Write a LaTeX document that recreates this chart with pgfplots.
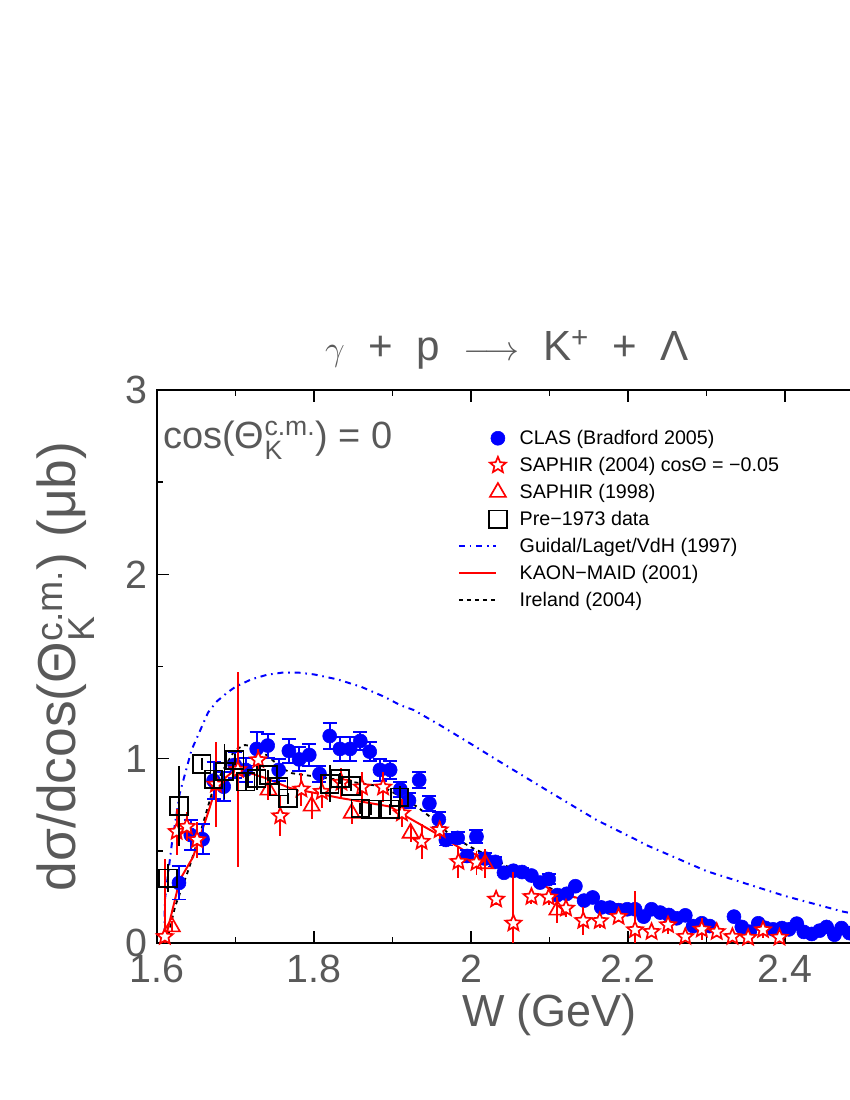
\documentclass[border=0pt]{standalone}
\usepackage{pgfplots}
\pgfplotsset{compat=1.18}
\usepackage{amsmath}
\usepackage{fontspec}
\setmainfont{Liberation Sans}

% open five-pointed star
\pgfdeclareplotmark{ostar}{%
  \pgfpathmoveto{\pgfpointpolar{90}{\pgfplotmarksize}}%
  \pgfpathlineto{\pgfpointpolar{126}{0.45\pgfplotmarksize}}%
  \pgfpathlineto{\pgfpointpolar{162}{\pgfplotmarksize}}%
  \pgfpathlineto{\pgfpointpolar{198}{0.45\pgfplotmarksize}}%
  \pgfpathlineto{\pgfpointpolar{234}{\pgfplotmarksize}}%
  \pgfpathlineto{\pgfpointpolar{270}{0.45\pgfplotmarksize}}%
  \pgfpathlineto{\pgfpointpolar{306}{\pgfplotmarksize}}%
  \pgfpathlineto{\pgfpointpolar{342}{0.45\pgfplotmarksize}}%
  \pgfpathlineto{\pgfpointpolar{18}{\pgfplotmarksize}}%
  \pgfpathlineto{\pgfpointpolar{54}{0.45\pgfplotmarksize}}%
  \pgfpathclose
  \pgfusepathqfillstroke
}

\definecolor{txtgray}{gray}{0.35}

\pgfplotsset{
  mark legend/.style={legend image code/.code={%
    \path[draw=none,fill=none] (0mm,0mm) -- (10.5mm,0mm);
    \draw[##1] plot coordinates {(9.75mm,0mm)};}},
  myline legend/.style={legend image code/.code={%
    \draw[##1] (0mm,0mm) -- (9.25mm,0mm);
    \path[draw=none,fill=none] (10.5mm,0mm);}},
}

\begin{document}
\begin{tikzpicture}
\useasboundingbox (0,0) rectangle (212.5mm,275mm);
\clip (0,0) rectangle (212.5mm,275mm);
\begin{axis}[
    at={(39.25mm,39.25mm)}, anchor=south west,
    scale only axis,
    width=196.25mm, height=138.25mm,
    xmin=1.6, xmax=2.6, ymin=0, ymax=3,
    xtick={1.6,1.8,2.0,2.2,2.4},
    ytick={0,1,2,3},
    minor x tick num=1, minor y tick num=1,
    tick align=inside, tick pos=both,
    xticklabel pos=lower, yticklabel pos=left,
    major tick length=3mm, minor tick length=1.5mm,
    every tick/.style={black, line width=1.1pt},
    axis line style={line width=1.5pt},
    /pgf/number format/assume math mode=true,
    tick label style={font=\fontsize{28}{28}\selectfont, text=txtgray, inner sep=0pt},
    xticklabel style={anchor=north, yshift=-3mm},
    yticklabel style={anchor=east, xshift=-2.25mm},
    xlabel={W (GeV)},
    ylabel={dσ/dcos(Θ$^{\text{c.m.}}_{\text{K}}$) (μb)},
    xlabel style={font=\fontsize{32}{32}\selectfont, text=txtgray,
        at={(axis description cs:0.5,-0.13)}, anchor=center},
    ylabel style={font=\fontsize{38}{38}\selectfont, text=txtgray,
        at={(axis description cs:-0.117,0.5)}, anchor=center},
    clip mode=individual,
    legend cell align=left,
    legend style={draw=none, fill=none, inner sep=0pt,
        at={(axis cs:1.983,2.794)}, anchor=north west,
        font=\fontsize{14}{16}\selectfont,
        row sep=1.75mm, column sep=3.25mm,
        nodes={inner sep=0pt, text height=4mm, text depth=1mm}},
]

% ---------------- Guidal/Laget/VdH (1997) ----------------
\addplot[blue, line width=1.4pt, dash pattern=on 1.5mm off 1.2mm on 0.4mm off 1.2mm, forget plot]
coordinates {
    (1.6095,0.05) (1.610,0.233) (1.619,0.541) (1.629,0.812) (1.644,1.047)
    (1.665,1.250) (1.676,1.310) (1.690,1.360) (1.700,1.390) (1.720,1.430)
    (1.740,1.455) (1.760,1.467) (1.780,1.467) (1.800,1.457) (1.830,1.430)
    (1.860,1.390) (1.890,1.335) (1.910,1.290) (1.927,1.264) (1.960,1.183)
    (2.000,1.080) (2.033,0.993) (2.100,0.820) (2.160,0.667) (2.211,0.559)
    (2.224,0.530) (2.300,0.390) (2.400,0.255) (2.474,0.170) (2.550,0.110)
    (2.600,0.080)
};

% ---------------- Ireland (2004) ----------------
\addplot[black, line width=1.3pt, dash pattern=on 1mm off 1mm, forget plot]
coordinates {
    (1.612,0.000) (1.623,0.197) (1.640,0.396) (1.657,0.624) (1.670,0.814)
    (1.682,0.922) (1.699,1.047) (1.712,1.074) (1.725,1.065) (1.742,1.011)
    (1.759,0.948) (1.772,0.921) (1.833,0.884) (1.888,0.848) (1.910,0.794)
    (1.931,0.740) (1.956,0.658) (1.973,0.586) (1.999,0.522) (2.033,0.450)
    (2.067,0.360) (2.101,0.297) (2.141,0.233)
};

% ---------------- KAON-MAID (2001) ----------------
\addplot[red, line width=1.4pt, forget plot]
coordinates {
    (1.6095,0.000) (1.610,0.010) (1.629,0.342) (1.646,0.467) (1.665,0.705)
    (1.676,0.857) (1.696,0.928) (1.706,0.939) (1.738,0.895) (1.769,0.841)
    (1.833,0.787) (1.897,0.740) (1.910,0.705) (1.957,0.591) (1.990,0.505)
    (2.015,0.467) (2.033,0.412) (2.059,0.380) (2.075,0.369) (2.110,0.262)
    (2.117,0.265) (2.161,0.217) (2.203,0.206)
};

% ---------------- CLAS (Bradford 2005) ----------------
\addplot[blue, only marks, mark=*, mark size=1.75mm, mark legend,
    error bars/.cd, y dir=both, y explicit,
    error bar style={line width=1.4pt},
    error mark options={rotate=90, mark size=1.75mm, line width=1.4pt}]
coordinates {
    (1.628,0.326) +- (0,0.09)
    (1.643,0.586) +- (0,0.08)
    (1.658,0.563) +- (0,0.08)
    (1.672,0.881) +- (0,0.10)
    (1.685,0.848) +- (0,0.08)
    (1.699,0.966) +- (0,0.07)
    (1.713,0.939) +- (0,0.065)
    (1.727,1.053) +- (0,0.09)
    (1.741,1.071) +- (0,0.065)
    (1.755,0.939) +- (0,0.06)
    (1.768,1.042) +- (0,0.065)
    (1.781,0.996) +- (0,0.065)
    (1.794,1.020) +- (0,0.06)
    (1.807,0.917) +- (0,0.045)
    (1.820,1.123) +- (0,0.068)
    (1.833,1.053) +- (0,0.065)
    (1.846,1.053) +- (0,0.065)
    (1.859,1.096) +- (0,0.05)
    (1.871,1.038) +- (0,0.05)
    (1.884,0.939) +- (0,0.06)
    (1.897,0.939) +- (0,0.05)
    (1.910,0.834) +- (0,0.04)
    (1.921,0.773) +- (0,0.04)
    (1.934,0.884) +- (0,0.045)
    (1.947,0.757) +- (0,0.04)
    (1.959,0.670) +- (0,0.04)
    (1.968,0.559) +- (0,0.03)
    (1.983,0.570) +- (0,0.03)
    (1.995,0.472) +- (0,0.03)
    (2.007,0.577) +- (0,0.035)
    (2.018,0.458) +- (0,0.03)
    (2.031,0.440) +- (0,0.025)
    (2.042,0.381) +- (0,0)
    (2.054,0.392) +- (0,0)
    (2.065,0.385) +- (0,0.02)
    (2.077,0.366) +- (0,0)
    (2.088,0.328) +- (0,0)
    (2.099,0.347) +- (0,0.027)
    (2.110,0.260) +- (0,0)
    (2.122,0.267) +- (0,0)
    (2.133,0.308) +- (0,0)
    (2.144,0.230) +- (0,0)
    (2.155,0.247) +- (0,0)
    (2.166,0.193) +- (0,0)
    (2.177,0.192) +- (0,0)
    (2.188,0.178) +- (0,0)
    (2.199,0.183) +- (0,0)
    (2.209,0.183) +- (0,0)
    (2.220,0.143) +- (0,0)
    (2.230,0.183) +- (0,0)
    (2.241,0.165) +- (0,0)
    (2.252,0.152) +- (0,0)
    (2.262,0.134) +- (0,0)
    (2.273,0.150) +- (0,0)
    (2.283,0.092) +- (0,0)
    (2.294,0.107) +- (0,0)
    (2.304,0.092) +- (0,0)
    (2.335,0.143) +- (0,0)
    (2.345,0.087) +- (0,0)
    (2.355,0.061) +- (0,0)
    (2.366,0.107) +- (0,0)
    (2.375,0.082) +- (0,0)
    (2.385,0.074) +- (0,0)
    (2.396,0.081) +- (0,0)
    (2.405,0.074) +- (0,0)
    (2.415,0.105) +- (0,0)
    (2.424,0.060) +- (0,0)
    (2.434,0.049) +- (0,0)
    (2.444,0.067) +- (0,0)
    (2.453,0.087) +- (0,0)
    (2.463,0.045) +- (0,0)
    (2.472,0.081) +- (0,0)
    (2.482,0.054) +- (0,0)
};
\addlegendentry{CLAS (Bradford 2005)}

% ---------------- SAPHIR (2004) ----------------
\addplot[red, only marks, mark=ostar, mark size=2.1mm, line width=1.2pt,
    mark options={fill=white}, mark legend,
    error bars/.cd, y dir=both, y explicit,
    error bar style={line width=1.4pt}, error mark=none]
coordinates {
    (1.610,0.034) += (0,0.42) -= (0,0.034)
    (1.625,0.604) +- (0,0.125)
    (1.638,0.631) +- (0,0.08)
    (1.651,0.559) +- (0,0.10)
    (1.675,0.860) +- (0,0.23)
    (1.703,0.940) +- (0,0.53)
    (1.729,0.993) +- (0,0.06)
    (1.757,0.689) +- (0,0.11)
    (1.784,0.834) +- (0,0.09)
    (1.810,0.821) +- (0,0.09)
    (1.835,0.870) +- (0,0.08)
    (1.861,0.845) +- (0,0.08)
    (1.888,0.845) +- (0,0.08)
    (1.912,0.704) +- (0,0.077)
    (1.937,0.550) +- (0,0.095)
    (1.960,0.613) +- (0,0.05)
    (1.984,0.441) +- (0,0.087)
    (2.007,0.436) +- (0,0.065)
    (2.032,0.237) +- (0,0.03)
    (2.054,0.107) += (0,0.28) -= (0,0.107)
    (2.077,0.251) +- (0,0.04)
    (2.099,0.248) +- (0,0.04)
    (2.121,0.188) +- (0,0.045)
    (2.143,0.121) +- (0,0.077)
    (2.164,0.120) +- (0,0.04)
    (2.188,0.143) +- (0,0.03)
    (2.209,0.071) += (0,0.21) -= (0,0.071)
    (2.230,0.061) +- (0,0.02)
    (2.251,0.098) +- (0,0.05)
    (2.273,0.034) +- (0,0.02)
    (2.294,0.074) +- (0,0.06)
    (2.313,0.061) +- (0,0.03)
    (2.333,0.034) +- (0,0.02)
    (2.353,0.029) +- (0,0.02)
    (2.372,0.071) +- (0,0.045)
    (2.393,0.030) +- (0,0.03)
};
\addlegendentry{SAPHIR (2004) cosΘ = −0.05}

% ---------------- SAPHIR (1998) ----------------
\addplot[red, only marks, mark=triangle, mark size=2.3mm, line width=1.2pt,
    mark options={fill=white}, mark legend,
    error bars/.cd, y dir=both, y explicit,
    error bar style={line width=1.4pt}, error mark=none]
coordinates {
    (1.619,0.088) +- (0,0.03)
    (1.742,0.830) +- (0,0.055)
    (1.797,0.743) +- (0,0.07)
    (1.848,0.704) +- (0,0.06)
    (1.923,0.596) +- (0,0.05)
    (2.018,0.430) +- (0,0.08)
    (2.110,0.179) +- (0,0.068)
};
\addlegendentry{SAPHIR (1998)}

% ---------------- Pre-1973 data ----------------
\addplot[black, only marks, mark=square, mark size=2.2mm, line width=1.3pt,
    mark options={fill=white}, mark legend,
    error bars/.cd, y dir=both, y explicit,
    error bar style={line width=1.4pt}, error mark=none]
coordinates {
    (1.614,0.351) +- (0,0.077)
    (1.628,0.743) +- (0,0.217)
    (1.657,0.971) +- (0,0.03)
    (1.672,0.888) +- (0,0.05)
    (1.686,0.930) +- (0,0.15)
    (1.699,0.993) +- (0,0.03)
    (1.713,0.875) +- (0,0.05)
    (1.727,0.893) +- (0,0.065)
    (1.742,0.911) +- (0,0.03)
    (1.755,0.848) +- (0,0.03)
    (1.767,0.785) +- (0,0.03)
    (1.820,0.863) +- (0,0.10)
    (1.833,0.893) +- (0,0.03)
    (1.847,0.852) +- (0,0.03)
    (1.859,0.731) +- (0,0.03)
    (1.872,0.725) +- (0,0.03)
    (1.897,0.725) +- (0,0.03)
    (1.909,0.790) +- (0,0.06)
};
\addlegendentry{Pre−1973 data}

\addlegendimage{blue, line width=1.4pt, dash pattern=on 1.5mm off 1.2mm on 0.4mm off 1.2mm, myline legend}
\addlegendentry{Guidal/Laget/VdH (1997)}
\addlegendimage{red, line width=1.4pt, myline legend}
\addlegendentry{KAON−MAID (2001)}
\addlegendimage{black, line width=1.3pt, dash pattern=on 1mm off 1mm, myline legend}
\addlegendentry{Ireland (2004)}
\end{axis}

\node[anchor=west, text=txtgray, font=\fontsize{27}{27}\selectfont, inner sep=0pt]
    at (40.75mm,165mm) {cos(Θ$^{\text{c.m.}}_{\text{K}}$) = 0};
\node[text=txtgray, font=\fontsize{30}{30}\selectfont, inner sep=0pt]
    at (126.75mm,187.5mm)
    {$\gamma$ \ + \ p \ $\longrightarrow$ \ K\textsuperscript{+} \ + \ Λ};
\end{tikzpicture}
\end{document}
